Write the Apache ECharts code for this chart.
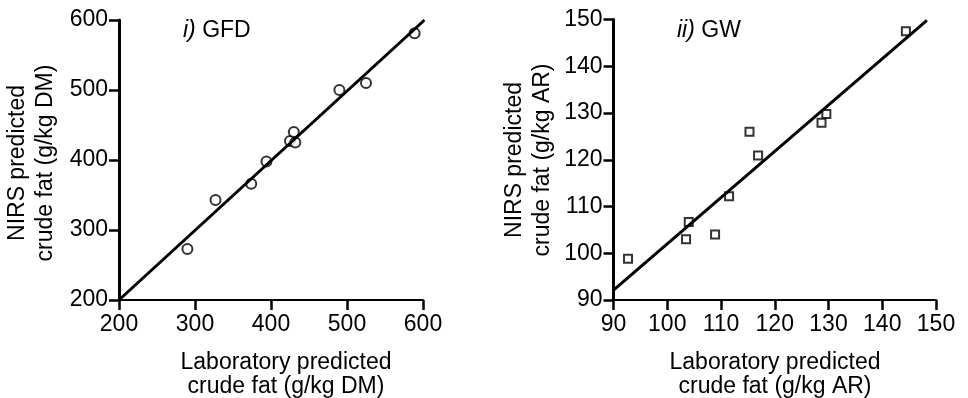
<!DOCTYPE html>
<html>
<head>
<meta charset="utf-8">
<script src="https://cdn.jsdelivr.net/npm/echarts@6/dist/echarts.min.js"></script>
<style>
  html, body { margin: 0; padding: 0; background: #fff; }
  #chart { width: 968px; height: 398px; }
</style>
</head>
<body>
<div id="chart"></div>
<script>
// Panel i) GFD: laboratory vs NIRS crude fat (g/kg DM)
var gfdLab  = [290, 327, 374, 394, 425, 430, 432, 490, 525, 589];
var gfdNirs = [273, 343, 366, 398, 427, 440, 425, 500, 510, 581];
var gfdFit  = [[200, 200], [602, 600]];
var gfdTicks = [200, 300, 400, 500, 600];

// Panel ii) GW: laboratory vs NIRS crude fat (g/kg AR)
var gwLab  = [92.7, 103.5, 104.0, 108.9, 111.5, 115.3, 116.9, 128.7, 129.6, 144.4];
var gwNirs = [98.8, 103.0, 106.7, 104.0, 112.2, 126.0, 120.9, 127.9, 129.8, 147.5];
var gwFit  = [[90, 92.1], [148.3, 149.8]];
var gwTicks = [90, 100, 110, 120, 130, 140, 150];

function pairs(xs, ys) {
  return xs.map(function (x, i) { return [x, ys[i]]; });
}

var FONT = '"Liberation Sans", Arial, sans-serif';
var INK = '#000';

function valueAxis(ticks, gridIndex, lineWidth, labelMargin) {
  return {
    gridIndex: gridIndex,
    type: 'value',
    min: ticks[0],
    max: ticks[ticks.length - 1],
    interval: ticks[1] - ticks[0],
    splitLine: { show: false },
    axisLine: { show: true, onZero: false, lineStyle: { color: INK, width: lineWidth } },
    axisTick: { show: true, inside: false, length: 10, lineStyle: { color: INK, width: 2.5 } },
    axisLabel: { color: INK, fontFamily: FONT, fontSize: 23, margin: labelMargin }
  };
}

function axisTitle(text, x, y, rotated, lineHeight) {
  return {
    type: 'text',
    x: x, y: y,
    rotation: rotated ? Math.PI / 2 : 0,
    silent: true,
    style: {
      text: text,
      fill: INK,
      fontFamily: FONT,
      fontSize: 23,
      lineHeight: lineHeight,
      align: 'center',
      verticalAlign: 'middle'
    }
  };
}

function panelTitle(text, left) {
  return {
    text: text,
    left: left, top: 14,
    textStyle: {
      color: INK, fontFamily: FONT, fontSize: 23, fontWeight: 'normal',
      rich: { it: { fontStyle: 'italic', fontFamily: FONT, fontSize: 23, color: INK } }
    }
  };
}

var chart = echarts.init(document.getElementById('chart'));

chart.setOption({
  backgroundColor: '#fff',
  animation: false,
  title: [
    panelTitle('{it|i)} GFD', 178),
    panelTitle('{it|ii)} GW', 672)
  ],
  grid: [
    { left: 119, top: 20, width: 304, height: 280 },
    { left: 613.5, top: 19.5, width: 322.5, height: 280.5 }
  ],
  xAxis: [
    valueAxis(gfdTicks, 0, 2, 13),
    valueAxis(gwTicks, 1, 2, 13)
  ],
  yAxis: [
    valueAxis(gfdTicks, 0, 3, 11),
    valueAxis(gwTicks, 1, 3, 11)
  ],
  graphic: [
    axisTitle('Laboratory predicted\ncrude fat (g/kg DM)', 286, 375, false, 24),
    axisTitle('Laboratory predicted\ncrude fat (g/kg AR)', 775, 375, false, 24),
    axisTitle('NIRS predicted\ncrude fat (g/kg DM)', 32, 163, true, 28),
    axisTitle('NIRS predicted\ncrude fat (g/kg AR)', 529, 160, true, 28)
  ],
  series: [
    {
      type: 'scatter', xAxisIndex: 0, yAxisIndex: 0,
      data: pairs(gfdLab, gfdNirs),
      symbol: 'emptyCircle', symbolSize: 10,
      itemStyle: { color: INK, borderColor: INK, borderWidth: 2.2 }
    },
    {
      type: 'scatter', xAxisIndex: 1, yAxisIndex: 1,
      data: pairs(gwLab, gwNirs),
      symbol: 'emptyRect', symbolSize: 8,
      itemStyle: { color: INK, borderColor: INK, borderWidth: 2.5 }
    },
    {
      type: 'line', xAxisIndex: 0, yAxisIndex: 0,
      data: gfdFit, symbol: 'none', clip: false,
      lineStyle: { color: INK, width: 3 }
    },
    {
      type: 'line', xAxisIndex: 1, yAxisIndex: 1,
      data: gwFit, symbol: 'none', clip: false,
      lineStyle: { color: INK, width: 3 }
    }
  ]
});
</script>
</body>
</html>
